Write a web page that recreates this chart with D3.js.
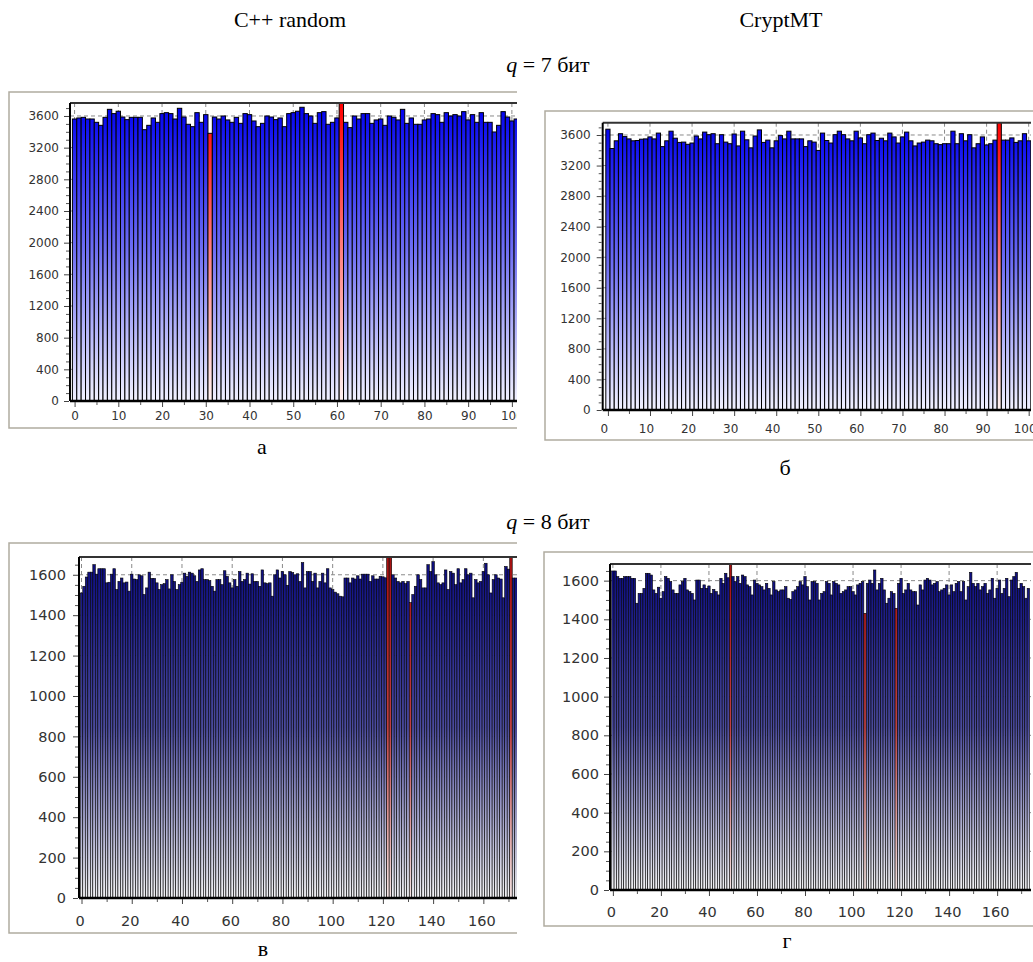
<!DOCTYPE html>
<html><head><meta charset="utf-8">
<script src="https://cdn.jsdelivr.net/npm/d3@7"></script>
<style>body{margin:0;background:#fff}svg{display:block}</style>
</head><body>
<svg id="c" width="1033" height="962"></svg>
<script>
// ---- data ----
const aValues = [3562,3575,3583,3562,3562,3520,3482,3583,3684,3630,
3660,3587,3554,3583,3583,3583,3427,3482,3575,3520,
3630,3642,3630,3562,3697,3587,3495,3465,3642,3520,
3617,3381,3587,3562,3600,3550,3520,3583,3507,3630,
3617,3537,3465,3507,3600,3587,3554,3575,3465,3630,
3642,3660,3710,3630,3600,3507,3642,3655,3495,3520,
3575,3800,3520,3453,3600,3562,3630,3630,3507,3550,
3562,3482,3600,3583,3550,3684,3507,3575,3495,3495,
3550,3562,3630,3617,3520,3642,3600,3617,3600,3655,
3550,3617,3520,3642,3520,3520,3398,3482,3655,3587,
3537,3562];
const aRed = [31, 61];

const bValues = [3676,3423,3524,3617,3579,3549,3524,3528,3545,3549,
3575,3549,3625,3448,3524,3650,3558,3503,3507,3478,
3495,3587,3549,3638,3604,3617,3486,3604,3507,3486,
3613,3457,3650,3537,3432,3587,3667,3503,3533,3432,
3524,3592,3549,3650,3549,3549,3549,3448,3524,3507,
3398,3625,3528,3495,3604,3650,3604,3549,3524,3650,
3562,3486,3604,3625,3528,3558,3524,3625,3575,3495,
3575,3638,3524,3457,3495,3507,3533,3524,3486,3474,
3486,3486,3650,3486,3617,3524,3604,3432,3486,3575,
3470,3486,3533,3800,3533,3533,3562,3503,3524,3617,
3524];
const bRed = [93];

const vValues = [1510,1543,1589,1613,1613,1650,1603,1630,1630,1630,
1560,1563,1603,1630,1527,1567,1584,1560,1564,1519,
1603,1579,1576,1600,1595,1502,1535,1613,1582,1582,
1560,1527,1551,1556,1576,1530,1600,1567,1527,1551,
1563,1608,1592,1613,1608,1595,1567,1624,1630,1576,
1576,1571,1543,1519,1576,1576,1551,1620,1592,1560,
1535,1576,1543,1616,1567,1576,1608,1554,1605,1567,
1567,1543,1624,1560,1556,1560,1494,1600,1624,1584,
1616,1600,1548,1616,1611,1600,1605,1567,1660,1535,
1616,1616,1567,1608,1535,1567,1608,1560,1630,1535,
1527,1514,1506,1494,1491,1584,1584,1560,1584,1579,
1595,1579,1603,1603,1603,1567,1595,1579,1579,1592,
1590,1585,1720,1720,1600,1584,1567,1560,1567,1556,
1567,1462,1502,1543,1600,1576,1535,1535,1650,1616,
1665,1600,1560,1551,1560,1624,1527,1616,1608,1551,
1630,1560,1576,1630,1600,1608,1486,1576,1560,1567,
1616,1657,1600,1510,1576,1600,1584,1579,1486,1641,
1628,1720,1584,1584];
const vRed = [122, 123, 131, 171];

const gValues = [1650,1650,1621,1612,1612,1621,1621,1621,1612,1612,
1483,1534,1534,1560,1638,1638,1629,1552,1534,1566,
1509,1543,1621,1612,1595,1552,1534,1534,1578,1595,
1612,1552,1543,1534,1500,1603,1603,1560,1578,1560,
1572,1534,1555,1543,1526,1612,1586,1638,1615,1720,
1621,1595,1621,1586,1629,1621,1578,1569,1526,1603,
1586,1578,1569,1552,1586,1560,1526,1595,1552,1543,
1552,1552,1569,1509,1503,1543,1552,1569,1595,1578,
1621,1569,1500,1595,1595,1586,1500,1534,1543,1595,
1586,1526,1595,1586,1578,1534,1543,1552,1569,1569,
1543,1526,1578,1586,1595,1431,1586,1603,1586,1655,
1552,1586,1612,1552,1483,1509,1543,1534,1457,1586,
1612,1534,1552,1586,1552,1543,1543,1474,1578,1552,
1603,1612,1603,1578,1586,1595,1543,1552,1560,1578,
1526,1578,1543,1586,1595,1543,1595,1500,1569,1643,
1586,1569,1586,1552,1569,1586,1534,1552,1612,1509,
1560,1603,1534,1560,1612,1517,1603,1621,1643,1560,
1586,1569,1509,1560];
const gRed = [49, 105, 118];

const q7Ticks = [0,400,800,1200,1600,2000,2400,2800,3200,3600];
const q8Ticks = [0,200,400,600,800,1000,1200,1400,1600];
const x7Ticks = [0,10,20,30,40,50,60,70,80,90,100];
const x8Ticks = [0,20,40,60,80,100,120,140,160];

// ---- layout ----
const svg = d3.select('#c');
const defs = svg.append('defs');

const panels = [
  {key:'a', values:aValues, red:aRed, yTicks:q7Ticks, yMinor:100, xTicks:x7Ticks, xMinor:5,
   frame:{l:9,t:92,r:517,b:428}, plot:{l:70,t:103,r:517,b:401}, xDom:[-1.05,101.17], yMax:3764,
   fill:['#0000f0','#7070f4','#f2f2ff'], redFill:['#ff0000','#ff8080','#fff2f2'],
   font:12, ylabGap:10, xlabDy:17, xlabShift:0, stroke:1},
  {key:'b', values:bValues, red:bRed, yTicks:q7Ticks, yMinor:100, xTicks:x7Ticks, xMinor:5,
   frame:{l:545,t:111,r:1033,b:440}, plot:{l:602.7,t:122.7,r:1031,b:410}, xDom:[-1.24,100.55], yMax:3761,
   fill:['#0000f0','#7070f4','#f2f2ff'], redFill:['#ff0000','#ff8080','#fff2f2'],
   font:12, ylabGap:11, xlabDy:21, xlabShift:-4, stroke:1},
  {key:'v', values:vValues, red:vRed, yTicks:q8Ticks, yMinor:50, xTicks:x8Ticks, xMinor:10,
   frame:{l:9,t:543,r:517,b:933}, plot:{l:79,t:557,r:517,b:898}, xDom:[-1.0,173.4], yMax:1688,
   fill:['#0a0a80','#4a4a9c','#f2f2f4'], redFill:['#a81010','#c04040','#f6e6e6'],
   font:14.5, ylabGap:12, xlabDy:25, xlabShift:-2, stroke:0.6},
  {key:'g', values:gValues, red:gRed, yTicks:q8Ticks, yMinor:50, xTicks:x8Ticks, xMinor:10,
   frame:{l:544,t:552,r:1033,b:926}, plot:{l:610,t:564,r:1031,b:890}, xDom:[-1.2,174.1], yMax:1686,
   fill:['#0a0a80','#4a4a9c','#f2f2f4'], redFill:['#a81010','#c04040','#f6e6e6'],
   font:14.5, ylabGap:10, xlabDy:24, xlabShift:-2, stroke:0.6}
];

panels.forEach(p => {
  const P = p.plot;
  const x = d3.scaleLinear().domain(p.xDom).range([P.l, P.r]);
  const y = d3.scaleLinear().domain([0, p.yMax]).range([P.b, P.t]);

  const mkGrad = (id, cols) => {
    const g = defs.append('linearGradient').attr('id', id)
      .attr('gradientUnits','userSpaceOnUse').attr('x1',0).attr('x2',0).attr('y1',P.t).attr('y2',P.b);
    g.append('stop').attr('offset','0%').attr('stop-color',cols[0]);
    g.append('stop').attr('offset','50%').attr('stop-color',cols[1]);
    g.append('stop').attr('offset','100%').attr('stop-color',cols[2]);
  };
  mkGrad('fill-'+p.key, p.fill);
  mkGrad('red-'+p.key, p.redFill);

  defs.append('clipPath').attr('id','frameclip-'+p.key).append('rect')
    .attr('x',0).attr('y',p.frame.t-5).attr('width',p.frame.r).attr('height',p.frame.b-p.frame.t+10);
  defs.append('clipPath').attr('id','plotclip-'+p.key).append('rect')
    .attr('x',P.l).attr('y',P.t).attr('width',P.r-P.l).attr('height',P.b-P.t);

  const G = svg.append('g').attr('clip-path','url(#frameclip-'+p.key+')');
  const F = p.frame;
  G.append('path').attr('d',`M${F.r},${F.t}H${F.l}V${F.b}H${F.r}`)
    .attr('fill','none').attr('stroke','#b0aca0').attr('stroke-width',1.5);

  const plotG = G.append('g').attr('clip-path','url(#plotclip-'+p.key+')');
  plotG.selectAll('.hg').data(p.yTicks.filter(d=>d>0)).join('line')
    .attr('x1',P.l).attr('x2',P.r).attr('y1',d=>y(d)).attr('y2',d=>y(d))
    .attr('stroke','#8a8a8a').attr('stroke-dasharray','4,3').attr('stroke-width',1);
  plotG.selectAll('.vg').data(p.xTicks).join('line')
    .attr('y1',P.t).attr('y2',P.b).attr('x1',d=>x(d)).attr('x2',d=>x(d))
    .attr('stroke','#8a8a8a').attr('stroke-dasharray','4,3').attr('stroke-width',1);

  const redSet = new Set(p.red);
  plotG.selectAll('.bar').data(p.values).join('rect')
    .attr('x',(d,i)=>x(i-0.5)).attr('width',(d,i)=>x(i+0.5)-x(i-0.5))
    .attr('y',d=>y(d)).attr('height',d=>P.b-y(d))
    .attr('fill',(d,i)=> redSet.has(i) ? 'url(#red-'+p.key+')' : 'url(#fill-'+p.key+')')
    .attr('stroke','#000').attr('stroke-width',p.stroke);

  G.append('line').attr('x1',P.l).attr('x2',P.r).attr('y1',P.t).attr('y2',P.t)
    .attr('stroke','#333').attr('stroke-width',2);
  G.append('line').attr('x1',P.l).attr('x2',P.r).attr('y1',P.b).attr('y2',P.b)
    .attr('stroke','#000').attr('stroke-width',2.5);
  G.append('line').attr('x1',P.l).attr('x2',P.l).attr('y1',P.t).attr('y2',P.b)
    .attr('stroke','#000').attr('stroke-width',2);

  const yMinorTicks = d3.range(0, p.yMax, p.yMinor).filter(v => !p.yTicks.includes(v));
  G.append('g').attr('transform',`translate(${P.l-1},0)`)
    .call(d3.axisLeft(y).tickValues(yMinorTicks).tickSize(3).tickFormat(''))
    .call(g=>g.select('.domain').remove())
    .call(g=>g.selectAll('line').attr('stroke','#555'));
  G.append('g').attr('transform',`translate(${P.l-1},0)`)
    .call(d3.axisLeft(y).tickValues(p.yTicks).tickSize(5).tickPadding(p.ylabGap-5).tickFormat(d3.format('d')))
    .call(g=>g.select('.domain').remove())
    .call(g=>g.selectAll('line').attr('stroke','#444'))
    .call(g=>g.selectAll('text').attr('fill','#333').style('font-family','"DejaVu Sans", Verdana, sans-serif').style('font-size',p.font+'px'));

  const xMinorTicks = d3.range(0, p.xDom[1], p.xMinor).filter(v => !p.xTicks.includes(v));
  G.append('g').attr('transform',`translate(0,${P.b+1})`)
    .call(d3.axisBottom(x).tickValues(xMinorTicks).tickSize(3).tickFormat(''))
    .call(g=>g.select('.domain').remove())
    .call(g=>g.selectAll('line').attr('stroke','#555'));
  G.append('g').attr('transform',`translate(0,${P.b+1})`)
    .call(d3.axisBottom(x).tickValues(p.xTicks).tickSize(5).tickPadding(p.xlabDy-13).tickFormat(d3.format('d')))
    .call(g=>g.select('.domain').remove())
    .call(g=>g.selectAll('line').attr('stroke','#444'))
    .call(g=>g.selectAll('text').attr('fill','#333').attr('dx',p.xlabShift).style('font-family','"DejaVu Sans", Verdana, sans-serif').style('font-size',p.font+'px'));
});

// ---- titles ----
const serif = '"Liberation Serif","Times New Roman",serif';
const T = (txt, xx, yy) => svg.append('text').attr('x',xx).attr('y',yy).attr('text-anchor','middle')
  .style('font-family',serif).style('font-size','22px').attr('fill','#000').text(txt);
T('C++ random', 290, 27);
T('CryptMT', 781, 27);
T('а', 262, 454);
T('б', 785, 475);
T('в', 263, 956);
T('г', 787, 948);
const Q = (bits, yy) => {
  const t = svg.append('text').attr('x',548).attr('y',yy).attr('text-anchor','middle')
    .style('font-family',serif).style('font-size','22px').attr('fill','#000');
  t.append('tspan').style('font-style','italic').text('q');
  t.append('tspan').text(' = ' + bits + ' бит');
};
Q(7, 72);
Q(8, 529);
</script>
</body></html>
